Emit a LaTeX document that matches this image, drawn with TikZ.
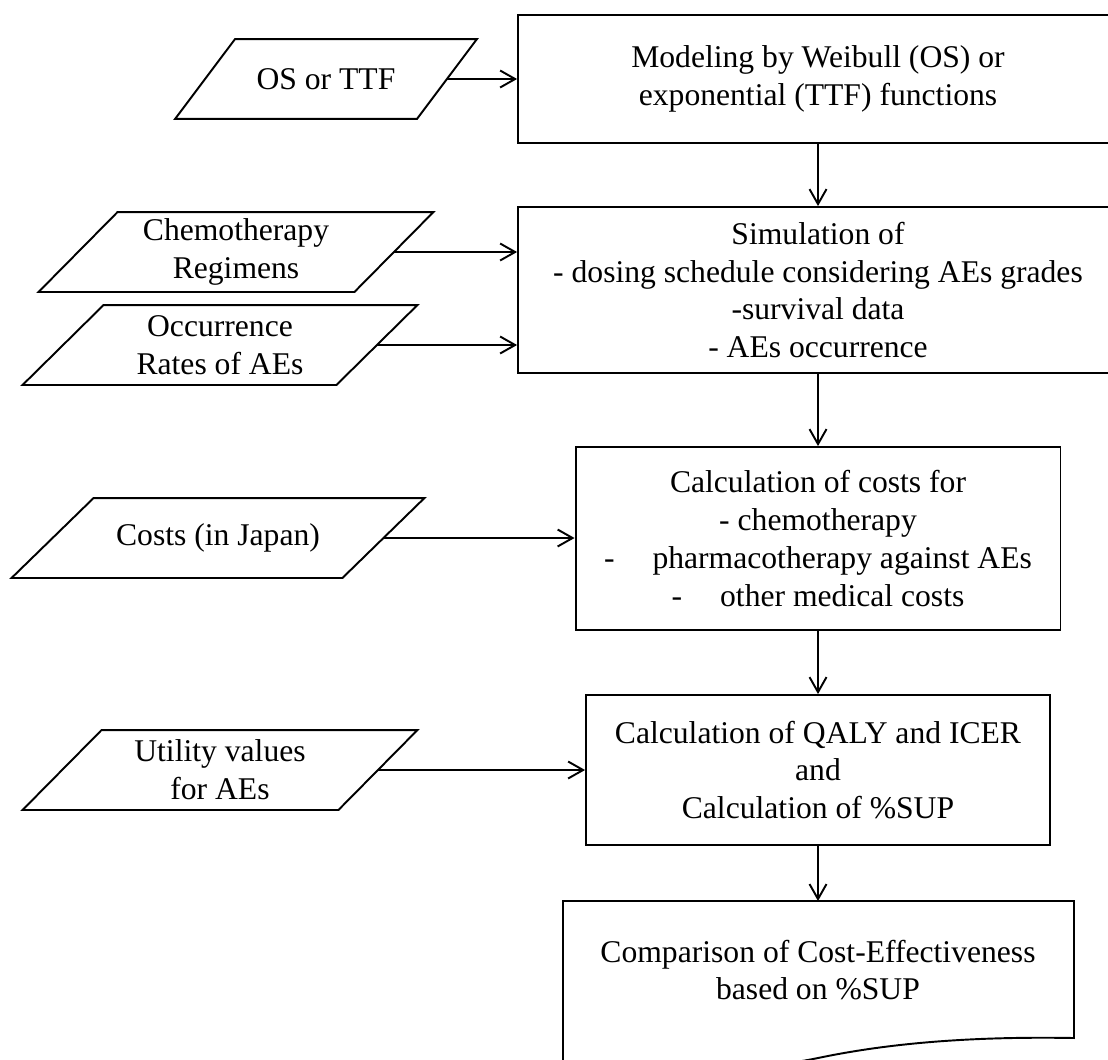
\documentclass[tikz,border=0pt]{standalone}
\usepackage{fontspec}
\setmainfont{Liberation Serif}
\usetikzlibrary{positioning}
\usetikzlibrary{arrows.meta}
\tikzset{>={Straight Barb[length=3mm,width=3.4mm]}}
\tikzset{
	% process steps
	procbox/.style={draw=black,rectangle,align=center,inner sep=0pt},
	% input data (the slanted frame is drawn afterwards)
	databox/.style={rectangle,align=center,inner sep=0pt,minimum height=1.56cm},
	% connectors
	flow/.style={->,line width=1.1pt},
}

\begin{document}
\begin{tikzpicture}[x=0.02cm,y=-0.02cm,line width=1.1pt,font=\fontsize{18}{21.5}\selectfont]
\useasboundingbox (0,0) rectangle (1108,1059);
% the process column
\node[procbox,minimum width=12cm,minimum height=2.56cm] (model) at (818,79) {Modeling by Weibull (OS) or\\exponential (TTF) functions};
\node[procbox,minimum width=12cm,minimum height=3.32cm] (sim) at (818,290) {Simulation of\\- dosing schedule considering AEs grades\\-survival data\\- AEs occurrence};
\node[procbox,minimum width=9.7cm,minimum height=3.66cm] (costcalc) at (818,538.5) {Calculation of costs for\\- chemotherapy\\-\hspace{1.2em}pharmacotherapy against AEs\\-\hspace{1.2em}other medical costs};
\node[procbox,minimum width=9.28cm,minimum height=3cm] (qaly) at (818,770) {Calculation of QALY and ICER\\and\\Calculation of \%SUP};
\node[align=center,inner sep=0pt] (result) at (818,970) {Comparison of Cost-Effectiveness\\based on \%SUP};
\coordinate (resulttop) at (818,901);
% document shape round the result
\draw (563,901) -- (1074,901) -- (1074,1038) .. controls (960,1036) and (880,1045) .. (818,1058)
  .. controls (750,1072) and (640,1075) .. (563,1068) -- cycle;
% the inputs
\node[databox,minimum width=4.8cm] (os) at (326,79) {OS or TTF};
\node[databox,minimum width=6.28cm] (chemo) at (236,252) {Chemotherapy\\Regimens};
\node[databox,minimum width=6.24cm] (occur) at (220,345) {Occurrence\\Rates of AEs};
\node[databox,minimum width=6.58cm] (costs) at (218,538) {Costs (in Japan)};
\node[databox,minimum width=6.28cm] (util) at (220,770) {Utility values\\for AEs};
\foreach \n/\s in {os/0.6cm,chemo/0.79cm,occur/0.81cm,costs/0.82cm,util/0.79cm}
  \draw ([xshift=\s]\n.north west) -- ([xshift=\s]\n.north east)
    -- ([xshift=-\s]\n.south east) -- ([xshift=-\s]\n.south west) -- cycle;
% arrows
\draw[flow] (os.east) -- (model);
\draw[flow] (chemo.east) -- (chemo.east -| sim.west);
\draw[flow] (occur.east) -- (occur.east -| sim.west);
\draw[flow] (costs.east) -- (costs.east -| costcalc.west);
\draw[flow] (util.east) -- (util.east -| qaly.west);
\draw[flow] (model) -- (sim);
\draw[flow] (sim) -- (costcalc);
\draw[flow] (costcalc) -- (qaly);
\draw[flow] (qaly) -- (resulttop);
\end{tikzpicture}
\end{document}
